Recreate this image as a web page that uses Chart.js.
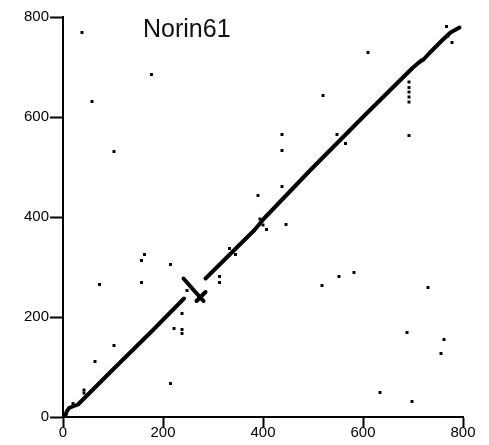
<!DOCTYPE html>
<html>
<head>
<meta charset="utf-8">
<script src="https://cdn.jsdelivr.net/npm/chart.js@4.4.1/dist/chart.umd.min.js"></script>
<style>
  html, body { margin: 0; padding: 0; background: #fff; }
  canvas { display: block; }
</style>
</head>
<body>
<canvas id="dotplot" width="489" height="445"></canvas>
<script>
// Label printed inside the plot
const plotLabel = 'Norin61';
const tickValues = [0, 200, 400, 600, 800];

// Diagonal runs (x, y pairs)
const diagLower = [[4, 0], [7, 10], [12, 18], [22, 22], [30, 25], [100, 95], [180, 174], [242, 237]];
const diagInverted = [[241, 277], [262, 253], [281, 232]];
const diagCross = [[267, 232], [285, 250]];
const diagUpper = [[285, 277], [383, 374], [403, 398], [493, 492], [603, 603], [700, 699],
                   [713, 710], [722, 716], [733, 728], [745, 740], [760, 755], [775, 769], [793, 779]];

// Isolated hits
const strayX = [38, 58, 102, 177, 767, 778, 770, 610, 520, 438, 438, 548, 565, 438, 390, 692,
                692, 692, 692, 692, 692, 215, 248, 238, 222, 238, 238, 313, 313, 333, 345,
                157, 163, 157, 73, 102, 64, 215, 42, 42, 20, 407, 446, 394, 400, 518, 552,
                582, 730, 688, 762, 756, 634, 698];
const strayY = [769, 631, 531, 685, 781, 749, 762, 729, 643, 565, 533, 565, 547, 461, 443, 563,
                670, 659, 650, 640, 630, 305, 253, 207, 177, 175, 167, 281, 269, 337, 325,
                313, 325, 269, 265, 143, 111, 67, 48, 54, 27, 375, 385, 396, 384, 263, 281,
                289, 259, 169, 155, 127, 49, 31];

const fontFamily = '"Liberation Sans", Arial, sans-serif';

function toPoints(pairs) {
  return pairs.map(p => ({ x: p[0], y: p[1] }));
}

function runDataset(pairs) {
  return {
    data: toPoints(pairs),
    showLine: true,
    borderColor: '#000',
    borderWidth: 4,
    pointRadius: 0,
    borderCapStyle: 'round',
    borderJoinStyle: 'round'
  };
}

// draws the sample name at a spot given in data units
const labelPlugin = {
  id: 'plotLabel',
  afterDatasetsDraw(chart) {
    const c = chart.ctx;
    const x = chart.scales.x.getPixelForValue(160);
    const y = chart.scales.y.getPixelForValue(760);
    c.save();
    c.font = '25px ' + fontFamily;
    c.fillStyle = '#111';
    c.textAlign = 'left';
    c.textBaseline = 'alphabetic';
    c.fillText(plotLabel, x, y);
    c.restore();
  }
};

function axisOptions(tickLength, padding, fitSize, isX) {
  return {
    type: 'linear',
    min: 0,
    max: 800,
    afterBuildTicks: s => { s.ticks = tickValues.map(v => ({ value: v })); },
    afterFit: s => { if (isX) s.height = fitSize; else s.width = fitSize; },
    ticks: {
      color: '#000',
      padding: padding,
      font: { size: 15, family: fontFamily }
    },
    grid: {
      drawOnChartArea: false,
      drawTicks: true,
      tickLength: tickLength,
      tickWidth: 2,
      tickColor: '#000'
    },
    border: { display: true, color: '#000', width: 2 }
  };
}

const strayPoints = strayX.map((x, i) => ({ x: x, y: strayY[i] }));

new Chart(document.getElementById('dotplot').getContext('2d'), {
  type: 'scatter',
  data: {
    datasets: [
      runDataset(diagLower),
      runDataset(diagInverted),
      runDataset(diagCross),
      runDataset(diagUpper),
      {
        data: strayPoints,
        pointStyle: 'rect',
        pointRadius: 2.1,
        pointBorderWidth: 0,
        backgroundColor: '#000',
        borderColor: '#000'
      }
    ]
  },
  options: {
    responsive: false,
    animation: false,
    layout: { padding: { top: 17, right: 26, left: 0, bottom: 0 } },
    plugins: {
      legend: { display: false },
      tooltip: { enabled: false }
    },
    scales: {
      x: axisOptions(10, -3, 28, true),
      y: axisOptions(13, 1, 63, false)
    }
  },
  plugins: [labelPlugin]
});
</script>
</body>
</html>
